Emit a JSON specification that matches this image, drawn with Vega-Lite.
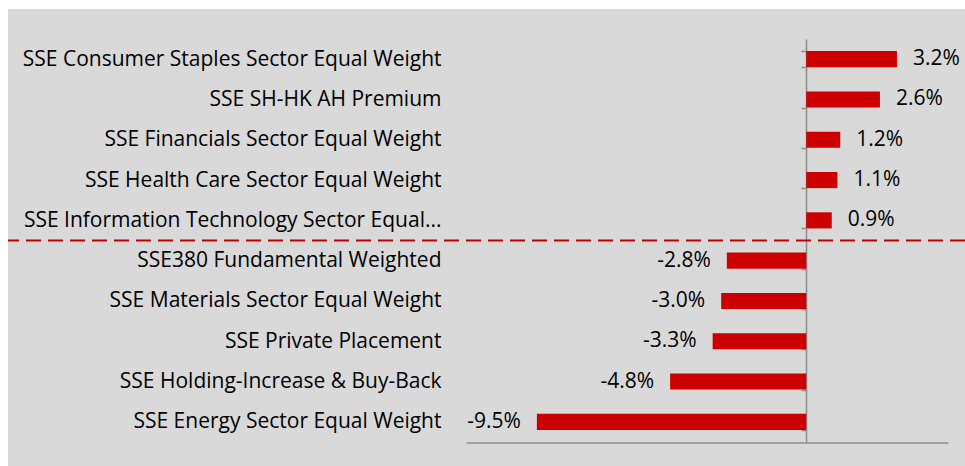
{
  "$schema": "https://vega.github.io/schema/vega-lite/v6.json",
  "width": 957,
  "height": 457,
  "autosize": {"type": "none"},
  "padding": {"left": 8, "top": 9, "right": 0, "bottom": 0},
  "background": "#ffffff",
  "config": {
    "view": {"fill": "#d9d9d9", "stroke": null},
    "font": "Open Sans",
    "locale": {"number": {"decimal": ".", "thousands": ",", "grouping": [3], "currency": ["$", ""], "minus": "-"}}
  },
  "data": {
    "values": [
      {"name": "SSE Consumer Staples Sector Equal Weight", "v": 0.032},
      {"name": "SSE SH-HK AH Premium", "v": 0.026},
      {"name": "SSE Financials Sector Equal Weight", "v": 0.012},
      {"name": "SSE Health Care Sector Equal Weight", "v": 0.011},
      {"name": "SSE Information Technology Sector Equal...", "v": 0.009},
      {"name": "SSE380 Fundamental Weighted", "v": -0.028},
      {"name": "SSE Materials Sector Equal Weight", "v": -0.030},
      {"name": "SSE Private Placement", "v": -0.033},
      {"name": "SSE Holding-Increase & Buy-Back", "v": -0.048},
      {"name": "SSE Energy Sector Equal Weight", "v": -0.095}
    ]
  },
  "encoding": {
    "y": {
      "field": "name",
      "type": "nominal",
      "sort": null,
      "title": null,
      "scale": {"range": [30, 433], "paddingInner": 0.6, "paddingOuter": 0.3},
      "axis": {
        "orient": "left",
        "offset": -798,
        "domainColor": "#8c8c8c",
        "domainWidth": 1.5,
        "tickColor": "#8c8c8c",
        "tickWidth": 1.5,
        "tickSize": 5,
        "tickBand": "extent",
        "labelPadding": 360,
        "labelLimit": 600,
        "labelFont": "Open Sans",
        "labelFontSize": 21,
        "labelColor": "#000000"
      }
    },
    "x": {
      "field": "v",
      "type": "quantitative",
      "title": null,
      "scale": {"domain": [-0.12, 0.05], "range": [458, 940], "nice": false, "zero": false},
      "axis": {
        "orient": "bottom",
        "offset": -23.5,
        "labels": false,
        "ticks": false,
        "grid": false,
        "domainColor": "#8c8c8c",
        "domainWidth": 1.5
      }
    }
  },
  "layer": [
    {"mark": {"type": "bar", "color": "#cc0000"}},
    {
      "transform": [{"filter": "datum.v >= 0"}],
      "mark": {"type": "text", "align": "left", "baseline": "middle", "dx": 16, "fontSize": 21, "font": "Open Sans", "color": "#000000"},
      "encoding": {"text": {"field": "v", "type": "quantitative", "format": ".1%"}}
    },
    {
      "transform": [{"filter": "datum.v < 0"}],
      "mark": {"type": "text", "align": "right", "baseline": "middle", "dx": -16, "fontSize": 21, "font": "Open Sans", "color": "#000000"},
      "encoding": {"text": {"field": "v", "type": "quantitative", "format": ".1%"}}
    },
    {
      "data": {"values": [{"name": "SSE380 Fundamental Weighted"}]},
      "mark": {"type": "rule", "color": "#c00000", "strokeWidth": 2, "strokeDash": [15, 7]},
      "encoding": {
        "y": {"field": "name", "type": "nominal", "bandPosition": -0.75},
        "x": null
      }
    }
  ]
}
